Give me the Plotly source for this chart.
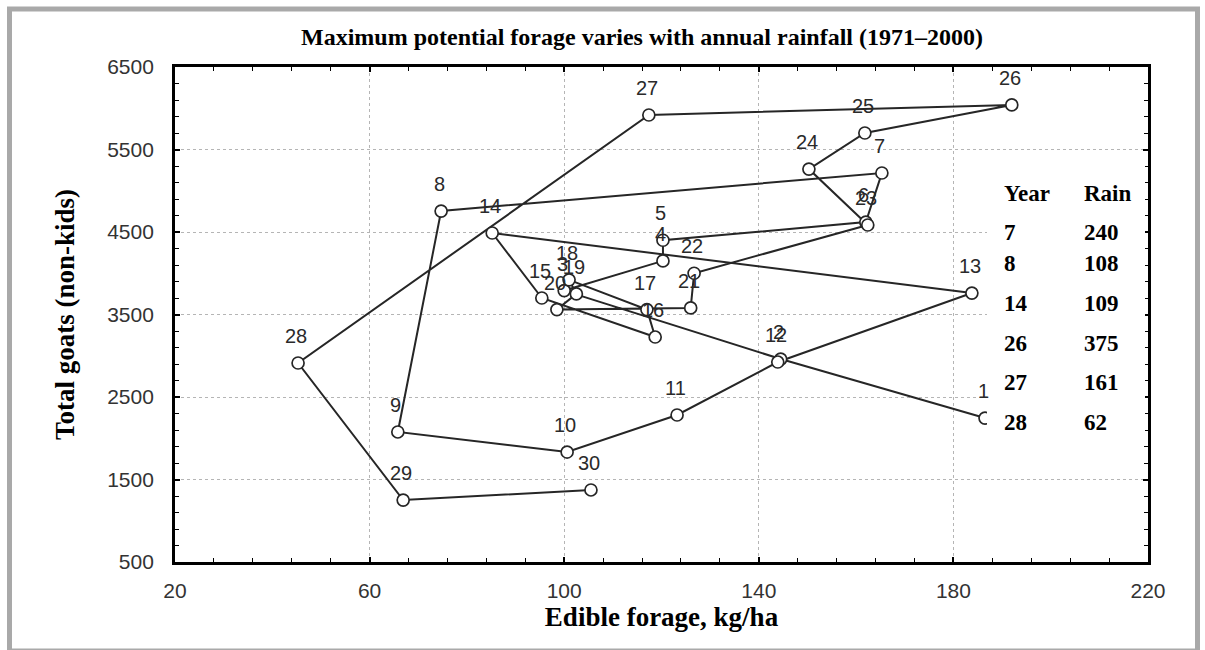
import plotly.graph_objects as go

# ---------------- data ----------------
years = list(range(1, 31))
forage = [186.5, 144.5, 100.0, 120.3, 120.3, 162.0, 165.3, 74.7, 65.8, 100.6,
          123.2, 143.9, 183.8, 85.2, 95.4, 118.7, 117.0, 101.0, 102.5, 98.5,
          126.0, 126.7, 162.4, 150.3, 161.8, 192.0, 117.4, 45.3, 66.9, 105.5]
goats = [2245, 2960, 3790, 4150, 4400, 4620, 5215, 4754, 2076, 1833,
         2282, 2924, 3760, 4488, 3700, 3227, 3560, 3920, 3750, 3560,
         3580, 4000, 4585, 5263, 5700, 6040, 5918, 2912, 1251, 1373]

table_years = [7, 8, 14, 26, 27, 28]
table_rain = [240, 108, 109, 375, 161, 62]

x_ticks = [20, 60, 100, 140, 180, 220]
y_ticks = [500, 1500, 2500, 3500, 4500, 5500, 6500]

title_text = "Maximum potential forage varies with annual rainfall (1971\u20132000)"
x_title = "Edible forage, kg/ha"
y_title = "Total goats (non-kids)"

# ---------------- layout geometry (pixels) ----------------
W, H = 1205, 650
L, R, T, B = 175, 57, 67, 88
pw = W - L - R
ph = H - T - B


def px_x(p):
    return (p - L) / pw


def px_y(p):
    return (H - B - p) / ph


serif = "Liberation Serif"
sans = "Liberation Sans"

fig = go.Figure()
fig.add_trace(go.Scatter(
    x=forage, y=goats, mode="lines+markers",
    line=dict(color="#262626", width=2),
    marker=dict(symbol="circle", size=12, color="white",
                line=dict(color="#262626", width=1.7)),
    hoverinfo="skip", showlegend=False, cliponaxis=False,
))

annotations = []
for yr, xv, yv in zip(years, forage, goats):
    annotations.append(dict(
        x=xv, y=yv, xref="x", yref="y", text=str(yr), showarrow=False,
        xshift=-2, yshift=27, font=dict(family=sans, size=20, color="#2a2a2a"),
    ))

# legend-like table
col_x = [px_x(1002), px_x(1082)]
row_y = [193, 232, 263, 303, 343, 382, 422]
table_font = dict(family=serif, size=23, color="black", weight="bold")
annotations.append(dict(x=col_x[0], y=px_y(row_y[0]), xref="paper", yref="paper",
                        text="Year", showarrow=False, xanchor="left", yanchor="middle",
                        font=table_font))
annotations.append(dict(x=col_x[1], y=px_y(row_y[0]), xref="paper", yref="paper",
                        text="Rain", showarrow=False, xanchor="left", yanchor="middle",
                        font=table_font))
for i, (yr, rn) in enumerate(zip(table_years, table_rain)):
    yy = px_y(row_y[i + 1])
    annotations.append(dict(x=col_x[0], y=yy, xref="paper", yref="paper",
                            text=str(yr), showarrow=False, xanchor="left",
                            yanchor="middle", font=table_font))
    annotations.append(dict(x=col_x[1], y=yy, xref="paper", yref="paper",
                            text=str(rn), showarrow=False, xanchor="left",
                            yanchor="middle", font=table_font))

shapes = [
    # white panel behind the table (covers the grid on the right)
    dict(type="rect", xref="paper", yref="paper",
         x0=px_x(987), x1=px_x(1145), y0=px_y(440), y1=px_y(165),
         fillcolor="white", line=dict(width=0), layer="above"),
    # grey outer frame
    dict(type="rect", xref="paper", yref="paper",
         x0=px_x(9.5), x1=px_x(1197.5), y0=px_y(651), y1=px_y(9),
         line=dict(color="#a9a9a9", width=5), fillcolor="rgba(0,0,0,0)",
         layer="above"),
]

axis_common = dict(
    showline=True, linecolor="black", linewidth=2.8, mirror="ticks",
    ticks="inside", ticklen=5, tickwidth=1.5, tickcolor="black",
    showgrid=True, gridcolor="#b5b5b5", gridwidth=1, griddash="dot",
    zeroline=False,
    tickfont=dict(family=sans, size=21, color="#333333"),
)

fig.update_layout(
    width=W, height=H,
    margin=dict(l=L, r=R, t=T, b=B),
    paper_bgcolor="white", plot_bgcolor="white",
    title=dict(text=title_text, x=642 / W, xanchor="center",
               y=1 - 37 / H, yanchor="middle", yref="container",
               font=dict(family=serif, size=24, color="black", weight="bold")),
    xaxis=dict(range=[20, 220], tickvals=x_ticks, **axis_common,
               ticklabelstandoff=8,
               minor=dict(dtick=8, tick0=20, ticks="inside", ticklen=4,
                          tickwidth=1.2, tickcolor="black", showgrid=False),
               title=dict(text=x_title, standoff=6,
                          font=dict(family=serif, size=27, color="black",
                                    weight="bold"))),
    yaxis=dict(range=[500, 6500], tickvals=y_ticks, **axis_common,
               ticklabelstandoff=14,
               minor=dict(dtick=200, tick0=500, ticks="inside", ticklen=4,
                          tickwidth=1.2, tickcolor="black", showgrid=False),
               title=dict(text=y_title, standoff=25,
                          font=dict(family=serif, size=27, color="black",
                                    weight="bold"))),
    annotations=annotations,
    shapes=shapes,
)

fig.write_html("out.html")
